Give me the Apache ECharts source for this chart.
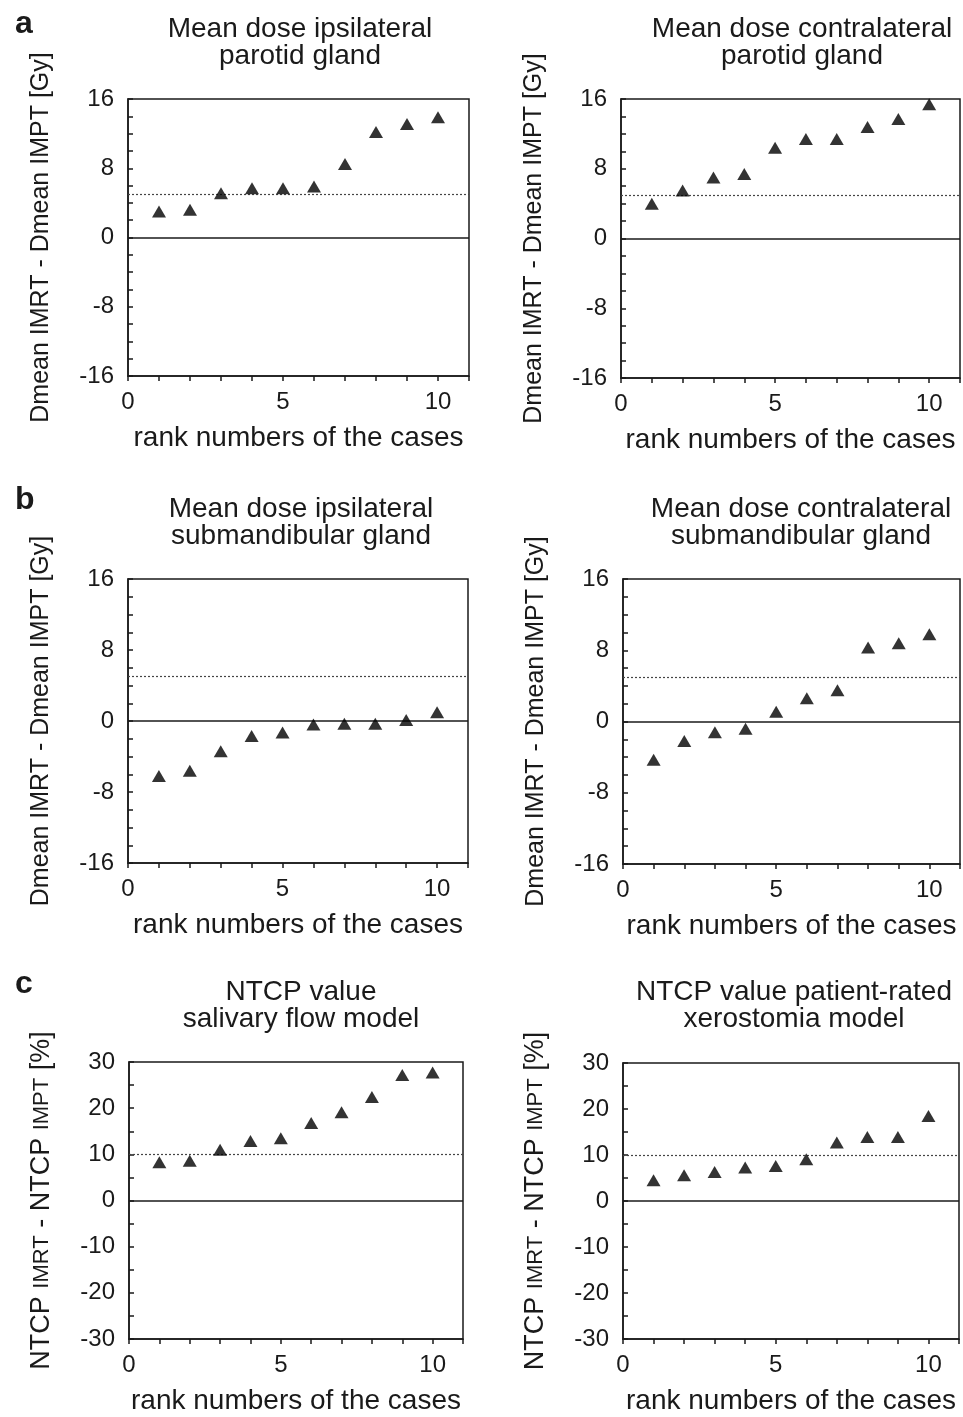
<!DOCTYPE html>
<html>
<head>
<meta charset="utf-8">
<script src="https://cdn.jsdelivr.net/npm/echarts@6/dist/echarts.min.js"></script>
<style>
html,body{margin:0;padding:0;background:#fff;}
#chart{width:963px;height:1417px;}
</style>
</head>
<body>
<div id="chart"></div>
<script>
// ---- data ----
const ranks = [1, 2, 3, 4, 5, 6, 7, 8, 9, 10];
const ipsiParotid = [3.0, 3.2, 5.1, 5.7, 5.7, 5.9, 8.5, 12.2, 13.1, 13.9];
const contraParotid = [4.0, 5.5, 7.0, 7.4, 10.4, 11.4, 11.4, 12.8, 13.7, 15.4];
const ipsiSubmand = [-6.2, -5.6, -3.4, -1.7, -1.3, -0.4, -0.3, -0.3, 0.1, 1.0];
const contraSubmand = [-4.3, -2.2, -1.2, -0.8, 1.1, 2.6, 3.5, 8.3, 8.8, 9.8];
const ntcpSalivary = [8.3, 8.6, 11.0, 12.9, 13.5, 16.8, 19.1, 22.4, 27.2, 27.7];
const ntcpXerostomia = [4.5, 5.6, 6.3, 7.3, 7.6, 9.1, 12.7, 13.9, 13.9, 18.5];

const doseThreshold = 5;
const ntcpThreshold = 10;

const xTickLabels = [0, 5, 10];
const doseTickLabels = [-16, -8, 0, 8, 16];
const ntcpTickLabels = [-30, -20, -10, 0, 10, 20, 30];

const panelTitles = [
  'Mean dose ipsilateral\nparotid gland',
  'Mean dose contralateral\nparotid gland',
  'Mean dose ipsilateral\nsubmandibular gland',
  'Mean dose contralateral\nsubmandibular gland',
  'NTCP value\nsalivary flow model',
  'NTCP value patient-rated\nxerostomia model'
];
const panelLetters = ['a', 'b', 'c'];
const xAxisName = 'rank numbers of the cases';
const doseAxisName = 'Dmean IMRT - Dmean IMPT [Gy]';

// ---- layout ----
const FONT = '"Liberation Sans", Arial, sans-serif';
const INK = '#1a1a1a';
const grids = [
  {left: 128, top: 99, width: 341, height: 277},
  {left: 621, top: 99, width: 340, height: 279},
  {left: 128, top: 579, width: 340, height: 284},
  {left: 623, top: 579, width: 342, height: 285},
  {left: 129, top: 1062, width: 334, height: 277},
  {left: 623, top: 1063, width: 336, height: 276}
];
const titlePos = [
  {x: 295, y: 11}, {x: 797, y: 11},
  {x: 296, y: 491}, {x: 796, y: 491},
  {x: 296, y: 974}, {x: 789, y: 974}
];
const letterPos = [{y: 3}, {y: 479}, {y: 963}];

const panelData = [ipsiParotid, contraParotid, ipsiSubmand, contraSubmand, ntcpSalivary, ntcpXerostomia];
const isNtcp = [false, false, false, false, true, true];

const option = {
  backgroundColor: '#fff',
  animation: false,
  title: [],
  grid: [],
  xAxis: [],
  yAxis: [],
  series: []
};

panelLetters.forEach((l, i) => {
  option.title.push({
    text: l, left: 10, top: letterPos[i].y,
    textStyle: {fontFamily: FONT, fontSize: 32, fontWeight: 'bold', color: INK}
  });
});

panelData.forEach((vals, i) => {
  const ntcp = isNtcp[i];
  option.title.push({
    text: panelTitles[i],
    left: titlePos[i].x, top: titlePos[i].y, textAlign: 'center',
    textStyle: {fontFamily: FONT, fontSize: 28, fontWeight: 'normal', color: INK, lineHeight: 27}
  });
  option.grid.push(Object.assign({show: true, borderColor: INK, borderWidth: 1.5, backgroundColor: 'transparent'}, grids[i]));
  option.xAxis.push({
    type: 'value', gridIndex: i, min: 0, max: 11, interval: 1,
    name: xAxisName, nameLocation: 'middle', nameGap: 48,
    nameTextStyle: {fontFamily: FONT, fontSize: 28, color: INK},
    axisLine: {show: true, onZero: false, lineStyle: {color: INK, width: 1.5}},
    axisTick: {show: true, inside: false, length: 5, lineStyle: {color: INK, width: 1.5}},
    splitLine: {show: false},
    axisLabel: {
      fontFamily: FONT, fontSize: 24, color: INK, margin: 14,
      formatter: v => xTickLabels.includes(v) ? String(v) : ''
    }
  });
  const ticks = ntcp ? ntcpTickLabels : doseTickLabels;
  const yName = ntcp
    ? '{a|NTCP }{b|IMRT}{a| - NTCP }{b|IMPT}{a| [%]}'
    : doseAxisName;
  option.yAxis.push({
    type: 'value', gridIndex: i,
    min: ntcp ? -30 : -16, max: ntcp ? 30 : 16, interval: ntcp ? 5 : 2,
    name: yName, nameLocation: 'middle', nameRotate: 90, nameGap: 74,
    nameTextStyle: {
      fontFamily: FONT, fontSize: 25, color: INK,
      rich: {
        a: {fontFamily: FONT, fontSize: 27, color: INK},
        b: {fontFamily: FONT, fontSize: 22, color: INK}
      }
    },
    axisLine: {show: true, onZero: false, lineStyle: {color: INK, width: 1.5}},
    axisTick: {show: true, inside: true, length: 5, lineStyle: {color: INK, width: 1.5}},
    splitLine: {show: false},
    axisLabel: {
      fontFamily: FONT, fontSize: 24, color: INK, margin: 14,
      formatter: v => ticks.includes(v) ? String(v) : ''
    }
  });
  option.series.push({
    type: 'scatter', xAxisIndex: i, yAxisIndex: i,
    symbol: 'triangle', symbolSize: [14, 12],
    itemStyle: {color: '#000'},
    data: ranks.map((r, k) => [r, vals[k]]),
    z: 5,
    markLine: {
      silent: true, symbol: 'none', label: {show: false},
      animation: false,
      data: [
        {yAxis: 0, lineStyle: {type: 'solid', color: INK, width: 1.5}},
        {yAxis: ntcp ? ntcpThreshold : doseThreshold, lineStyle: {type: [2, 2], color: '#444', width: 1.2}}
      ]
    }
  });
});

const chart = echarts.init(document.getElementById('chart'), null, {renderer: 'canvas'});
chart.setOption(option);
</script>
</body>
</html>
